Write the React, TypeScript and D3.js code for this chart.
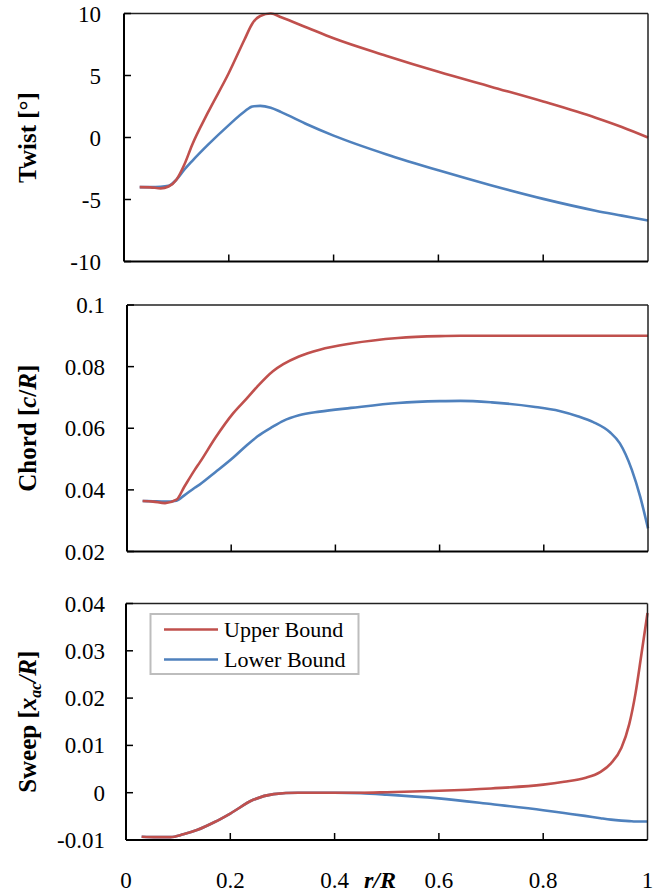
import React from 'react';
import * as d3 from 'd3';

// ---------- data ----------
const twistR = [0.03, 0.05, 0.07, 0.085, 0.1, 0.115, 0.13, 0.16, 0.2, 0.23, 0.245, 0.26, 0.28, 0.3, 0.35, 0.4, 0.5, 0.6, 0.7, 0.8, 0.9, 0.95, 1.0];
const twistUpper = [-4.0, -4.02, -4.1, -3.95, -3.4, -2.2, -0.6, 2.0, 5.2, 7.9, 9.2, 9.8, 10.0, 9.7, 8.85, 8.0, 6.6, 5.3, 4.1, 2.9, 1.6, 0.85, 0.0];
const twistLower = [-4.0, -4.0, -3.98, -3.9, -3.4, -2.6, -1.9, -0.6, 1.0, 2.1, 2.5, 2.55, 2.4, 2.05, 1.05, 0.15, -1.35, -2.65, -3.85, -4.95, -5.9, -6.3, -6.7];

const chordR = [0.03, 0.05, 0.073, 0.095, 0.11, 0.13, 0.14, 0.17, 0.204, 0.23, 0.25, 0.28, 0.3, 0.33, 0.37, 0.43, 0.52, 0.6, 0.64, 0.7, 0.78, 0.83, 0.865, 0.895, 0.927, 0.946, 0.969, 0.985, 1.0];
const chordUpper = [0.0364, 0.0362, 0.0357, 0.0368, 0.041, 0.0465, 0.049, 0.057, 0.0649, 0.0697, 0.0735, 0.0785, 0.0808, 0.0833, 0.0855, 0.0875, 0.0893, 0.0899, 0.09, 0.09, 0.09, 0.09, 0.09, 0.09, 0.09, 0.09, 0.09, 0.09, 0.09];
const chordLower = [0.0364, 0.0363, 0.0362, 0.0365, 0.0382, 0.0407, 0.0418, 0.0458, 0.0505, 0.0545, 0.0573, 0.0605, 0.0624, 0.0642, 0.0654, 0.0666, 0.0682, 0.0688, 0.0689, 0.0684, 0.067, 0.0656, 0.0639, 0.062, 0.0587, 0.0551, 0.0465, 0.0378, 0.0275];

const sweepR = [0.03, 0.06, 0.085, 0.11, 0.136, 0.17, 0.2, 0.244, 0.283, 0.33, 0.4, 0.45, 0.5, 0.6, 0.7, 0.8, 0.84, 0.88, 0.91, 0.93, 0.95, 0.965, 0.977, 0.988, 1.0];
const sweepUpper = [-0.0093, -0.0094, -0.0094, -0.0088, -0.0079, -0.0062, -0.0044, -0.0015, -0.0003, 0, 0, 0, 0.0001, 0.0004, 0.0009, 0.0017, 0.0023, 0.0031, 0.0044, 0.0062, 0.0095, 0.0145, 0.021, 0.029, 0.038];
const sweepLower = [-0.0093, -0.0094, -0.0094, -0.0088, -0.0079, -0.0062, -0.0044, -0.0015, -0.0003, 0, 0, -0.0001, -0.0004, -0.0012, -0.0024, -0.0037, -0.0043, -0.0049, -0.0054, -0.0057, -0.0059, -0.006, -0.0061, -0.0061, -0.0061];

const xTicks = [0, 0.2, 0.4, 0.6, 0.8, 1];
const xTickLabels = ['0', '0.2', '0.4', '0.6', '0.8', '1'];
const twistTicks = [10, 5, 0, -5, -10];
const twistTickLabels = ['10', '5', '0', '-5', '-10'];
const chordTicks = [0.1, 0.08, 0.06, 0.04, 0.02];
const chordTickLabels = ['0.1', '0.08', '0.06', '0.04', '0.02'];
const sweepTicks = [0.04, 0.03, 0.02, 0.01, 0, -0.01];
const sweepTickLabels = ['0.04', '0.03', '0.02', '0.01', '0', '-0.01'];
const seriesNames = ['Upper Bound', 'Lower Bound'];
const seriesColors = ['#C0504D', '#4F81BD'];

const FONT = 'Liberation Serif';

type PanelProps = {
  box: { left: number; right: number; top: number; bottom: number };
  yDomain: [number, number];
  yTicks: number[];
  yTickLabels: string[];
  labelRight: number;
  r: number[];
  upper: number[];
  lower: number[];
  label: React.ReactNode;
};

function Panel({ box, yDomain, yTicks, yTickLabels, labelRight, r, upper, lower, label }: PanelProps) {
  const x = d3.scaleLinear().domain([0, 1]).range([box.left, box.right]);
  const y = d3.scaleLinear().domain(yDomain).range([box.bottom, box.top]);
  const mk = (vals: number[]) =>
    d3
      .line<number>()
      .x((_, i) => x(r[i]))
      .y((d) => y(d))
      .curve(d3.curveMonotoneX)(vals) || '';
  const tickLen = 7;
  const cy = (box.top + box.bottom) / 2;
  return (
    <g>
      {[lower, upper].map((s, k) => (
        <path key={k} d={mk(s)} fill="none" stroke={k === 0 ? seriesColors[1] : seriesColors[0]} strokeWidth={2.6} strokeLinejoin="round" />
      ))}
      <line x1={box.left} x2={box.right} y1={box.top} y2={box.top} stroke="#222" strokeWidth={1.5} />
      <line x1={box.right} x2={box.right} y1={box.top} y2={box.bottom} stroke="#222" strokeWidth={1.5} />
      <line x1={box.left} x2={box.left} y1={box.top} y2={box.bottom} stroke="#000" strokeWidth={2} />
      <line x1={box.left} x2={box.right} y1={box.bottom} y2={box.bottom} stroke="#000" strokeWidth={2} />
      {yTicks.map((t, i) => (
        <g key={i}>
          <line x1={box.left} x2={box.left + tickLen} y1={y(t)} y2={y(t)} stroke="#000" strokeWidth={1.5} />
          <text x={labelRight} y={y(t)} dy="0.35em" textAnchor="end" fontSize={23} fontFamily={FONT}>
            {yTickLabels[i]}
          </text>
        </g>
      ))}
      {xTicks.slice(1, -1).map((t, i) => (
        <line key={i} x1={x(t)} x2={x(t)} y1={box.bottom} y2={box.bottom - tickLen} stroke="#000" strokeWidth={1.5} />
      ))}
      <text
        transform={`translate(36,${cy}) rotate(-90)`}
        textAnchor="middle"
        fontSize={25}
        fontWeight="bold"
        fontFamily={FONT}
      >
        {label}
      </text>
    </g>
  );
}

export default function App() {
  const bottomBox = { left: 126, right: 647.5, top: 603.5, bottom: 840 };
  const xb = d3.scaleLinear().domain([0, 1]).range([bottomBox.left, bottomBox.right]);
  return (
    <svg width={666} height={892} style={{ position: 'absolute', left: 0, top: 0, background: '#fff' }}>
      <rect x={0} y={0} width={666} height={892} fill="#fff" />
      <Panel
        box={{ left: 124, right: 648, top: 13.5, bottom: 261.5 }}
        yDomain={[-10, 10]}
        yTicks={twistTicks}
        yTickLabels={twistTickLabels}
        labelRight={101}
        r={twistR}
        upper={twistUpper}
        lower={twistLower}
        label={<>Twist [°]</>}
      />
      <Panel
        box={{ left: 127, right: 648, top: 305, bottom: 551.5 }}
        yDomain={[0.02, 0.1]}
        yTicks={chordTicks}
        yTickLabels={chordTickLabels}
        labelRight={105}
        r={chordR}
        upper={chordUpper}
        lower={chordLower}
        label={
          <>
            Chord [<tspan fontStyle="italic">c</tspan>/<tspan fontStyle="italic">R</tspan>]
          </>
        }
      />
      <Panel
        box={bottomBox}
        yDomain={[-0.01, 0.04]}
        yTicks={sweepTicks}
        yTickLabels={sweepTickLabels}
        labelRight={105}
        r={sweepR}
        upper={sweepUpper}
        lower={sweepLower}
        label={
          <>
            Sweep [<tspan fontStyle="italic">x</tspan>
            <tspan fontStyle="italic" fontSize={16} dy={5}>
              ac
            </tspan>
            <tspan fontStyle="italic" dy={-5}>
              /R
            </tspan>
            ]
          </>
        }
      />
      {xTicks.map((t, i) => (
        <text key={i} x={xb(t)} y={888} textAnchor="middle" fontSize={23} fontFamily={FONT}>
          {xTickLabels[i]}
        </text>
      ))}
      <text x={380} y={888} textAnchor="middle" fontSize={24} fontWeight="bold" fontStyle="italic" fontFamily={FONT}>
        r/R
      </text>
      <rect x={150.5} y={614} width={208} height={60} fill="#fff" stroke="#bdbdbd" strokeWidth={2} />
      {seriesNames.map((n, i) => (
        <g key={n}>
          <line x1={164} x2={218} y1={629.5 + i * 30} y2={629.5 + i * 30} stroke={seriesColors[i]} strokeWidth={2.6} />
          <text x={224} y={629.5 + i * 30} dy="0.35em" fontSize={22} fontFamily={FONT}>
            {n}
          </text>
        </g>
      ))}
    </svg>
  );
}
